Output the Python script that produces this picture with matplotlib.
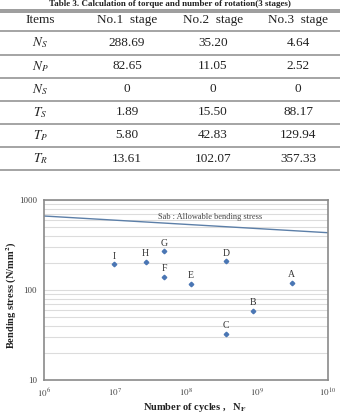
import matplotlib
matplotlib.use("Agg")
import matplotlib.pyplot as plt
from matplotlib.lines import Line2D
from matplotlib.ticker import LogLocator, NullFormatter

plt.rcParams['font.family'] = ['Liberation Serif', 'DejaVu Serif']
plt.rcParams['mathtext.fontset'] = 'stix'

# ---- table data ----
col_heads = ["Items", "No.1  stage", "No.2  stage", "No.3  stage"]
row_items = [r"$N_S$", r"$N_P$", r"$N_S$", r"$T_S$", r"$T_P$", r"$T_R$"]
stage1 = ["288.69", "82.65", "0", "1.89", "5.80", "13.61"]
stage2 = ["35.20", "11.05", "0", "15.50", "42.83", "102.07"]
stage3 = ["4.64", "2.52", "0", "88.17", "129.94", "357.33"]

# ---- chart data ----
pt_labels = ["I", "H", "G", "F", "E", "D", "C", "B", "A"]
cycles = [9.8e6, 2.7e7, 4.9e7, 4.9e7, 1.18e8, 3.7e8, 3.7e8, 8.7e8, 3.08e9]
stress = [193, 205, 269, 141, 117, 208, 32.5, 59, 120]
allow_x = [1e6, 1e10]
allow_y = [664, 433]

W, H = 340, 415
fig = plt.figure(figsize=(W / 100, H / 100), dpi=100)

def fy(py):
    return 1 - py / H

# caption (only its lower part shows in the source, keep it small here)
fig.text(0.5, fy(8.5), "Table 3. Calculation of torque and number of rotation(3 stages)",
         ha='center', va='bottom', fontsize=6.5, fontweight='bold', color='#222222')

# table rules
rule = '#8c8c8c'
fig.add_artist(Line2D([0, 1], [fy(10), fy(10)], color=rule, lw=1.2))
fig.add_artist(Line2D([0, 1], [fy(12.5), fy(12.5)], color=rule, lw=1.2))
row_h = 23.1
y0 = 31.5
for i in range(len(row_items) + 1):
    yy = y0 + i * row_h
    fig.add_artist(Line2D([0, 1], [fy(yy), fy(yy)], color=rule, lw=1.1))

col_x = [40, 127, 213, 298]
for cx, t in zip(col_x, col_heads):
    fig.text(cx / W, fy(20), t, ha='center', va='center', fontsize=9.5, color='#222222')
for i in range(len(row_items)):
    cy = fy(y0 + (i + 0.5) * row_h)
    vals = [row_items[i], stage1[i], stage2[i], stage3[i]]
    for cx, t in zip(col_x, vals):
        fig.text(cx / W, cy, t, ha='center', va='center', fontsize=9.5, color='#222222')

# ---- S-N chart ----
ax = fig.add_axes([44 / W, fy(380), (328 - 44) / W, (380 - 200) / H])
ax.set_xscale('log')
ax.set_yscale('log')
ax.set_xlim(1e6, 1e10)
ax.set_ylim(10, 1000)

ax.yaxis.set_minor_locator(LogLocator(base=10, subs=range(2, 10)))
ax.yaxis.set_minor_formatter(NullFormatter())
ax.yaxis.grid(True, which='both', color='#dcdcdc', lw=0.8)
ax.set_axisbelow(True)
for s in ax.spines.values():
    s.set_color('#8a8a8a')
    s.set_linewidth(1.2)

ax.plot(allow_x, allow_y, color='#5c7fa8', lw=1.0)
ax.text(10 ** 8.34, 653, "Sab : Allowable bending stress", ha='center', va='center',
        fontsize=6, color='#444444')

ax.plot(cycles, stress, linestyle='none', marker='D', ms=2.3, color='#4a76b4')
for lab, x, y in zip(pt_labels, cycles, stress):
    ax.annotate(lab, (x, y), xytext=(0, 2.5), textcoords='offset points',
                ha='center', va='bottom', fontsize=7, color='#333333')

ax.set_xticks([1e6, 1e7, 1e8, 1e9, 1e10])
ax.set_xticklabels([r"$10^{6}$", r"$10^{7}$", r"$10^{8}$", r"$10^{9}$", r"$10^{10}$"])
ax.xaxis.set_minor_locator(LogLocator(base=10, subs=[]))
ax.set_yticks([10, 100, 1000])
ax.set_yticklabels(["10", "100", "1000"])
ax.tick_params(which='both', length=0, labelsize=6.5, colors='#444444', pad=5)

ax.set_ylabel(r"Bending stress (N/mm$^{\mathbf{2}}$)", fontsize=7.5, fontweight='bold',
              color='#222222', va='center')
ax.yaxis.set_label_coords(-0.113, 0.47)
ax.set_xlabel(r"Number of cycles ,   N$_{\mathbf{F}}$", fontsize=7.5, fontweight='bold',
              color='#222222', va='center')
ax.xaxis.set_label_coords(0.53, -0.155)

fig.savefig("out.png", dpi=100)
